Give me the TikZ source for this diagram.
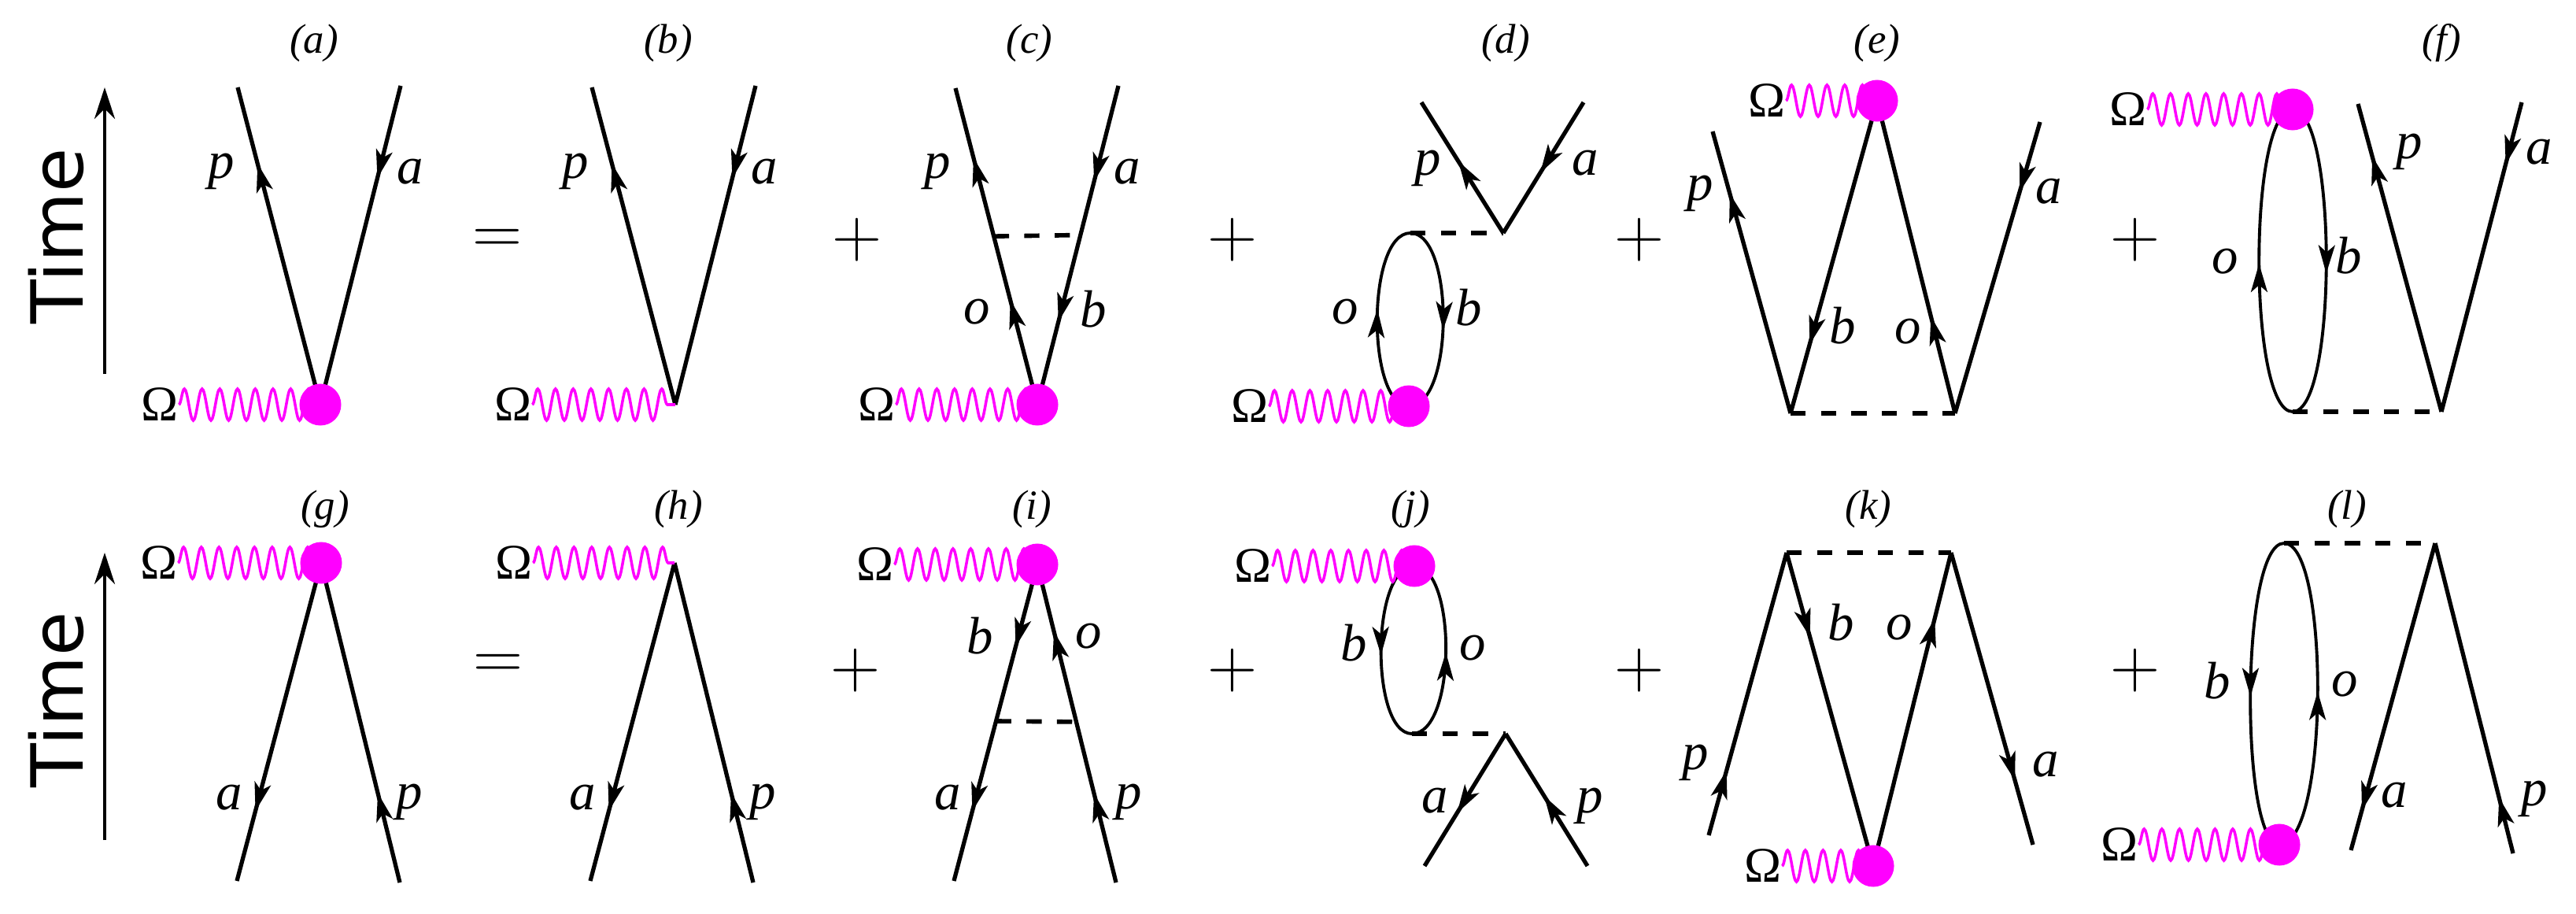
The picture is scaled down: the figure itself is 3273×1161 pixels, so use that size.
\documentclass[tikz,border=0pt]{standalone}
\usepackage{fontspec}
\setmainfont{Liberation Serif}
\newfontfamily\timefont{DejaVu Sans}
\usetikzlibrary{arrows.meta,decorations.pathmorphing,decorations.markings,calc}
\definecolor{mag}{RGB}{255,0,255}
\tikzset{
  fl/.style={line width=1.5pt},
  lp/.style={line width=1.1pt},
  fa/.style={postaction={decorate,decoration={markings,mark=at position #1 with {\arrow{Stealth[length=3.6mm,width=2.1mm,inset=0.9mm]}}}}},
  dsh/.style={line width=1.6pt,dash pattern=on 5.5pt off 5.5pt},
  wave/.style={mag,line width=1pt,decorate,decoration={snake,segment length=0.225cm,amplitude=0.2cm}},
  dot/.style={circle,fill=mag,inner sep=0pt,minimum size=0.53cm},
  lab/.style={font=\fontsize{19}{19}\selectfont\itshape},
  om/.style={font=\fontsize{18}{18}\selectfont,inner sep=0pt},
  ttl/.style={font=\fontsize{15}{15}\selectfont\itshape},
  op/.style={font=\fontsize{27}{27}\selectfont}
}
\begin{document}
\begin{tikzpicture}[x=0.01cm,y=-0.01cm]
\useasboundingbox (0,0) rectangle (3273,1161);
% titles
\foreach \t/\x/\y in {a/399/55,b/849/55,c/1308/55,d/1913/55,e/2385/55,f/3102/55,g/413/647,h/862/647,i/1311/647,j/1792/647,k/2374/647,l/2982/647}
  \node[ttl] (t\t) at (\x,\y) {(\t)};
% operators
\node[op] (eq1) at (632,307) {$=$};
\node[op] (eq2) at (633,847) {$=$};
\foreach \n/\x/\y in {1/1089/305,2/1566/305,3/2083/305,4/2713/305,5/1087/852,6/1566/852,7/2083/852,8/2713/852}
  \node[op] (pl\n) at (\x,\y) {$+$};
% time axes
\coordinate (T1b) at (133,475); \coordinate (T1t) at (133,111);
\coordinate (T2b) at (133,1067); \coordinate (T2t) at (133,702);
\draw[line width=1.2pt,-{Stealth[length=4mm,width=2.6mm]}] (T1b) -- (T1t);
\draw[line width=1.2pt,-{Stealth[length=4mm,width=2.6mm]}] (T2b) -- (T2t);
\node[rotate=90,font=\timefont\fontsize{26}{26}\selectfont] (time1) at (71,300) {Time};
\node[rotate=90,font=\timefont\fontsize{26}{26}\selectfont] (time2) at (71,889) {Time};

% ---------- (a)
\coordinate (va) at (407,514); \coordinate (a1) at (302,111); \coordinate (a2) at (509,109);
\draw[fl,fa=0.76] (va) -- (a1);
\draw[fl,fa=0.29] (a2) -- (va);
\node[om] (Oa) at (203,514) {Ω};
\draw[wave] (Oa.east) -- (va);
\node[dot] (da) at (va) {};
\node[lab] at (281,218) {p}; \node[lab] at (521,218) {a};
% ---------- (b)
\coordinate (vb) at (858,514); \coordinate (b1) at (752,111); \coordinate (b2) at (960,109);
\draw[fl,fa=0.76] (vb) -- (b1);
\draw[fl,fa=0.29] (b2) -- (vb);
\node[om] (Ob) at (652,514) {Ω};
\draw[wave] (Ob.east) -- (vb);
\node[lab] at (731,218) {p}; \node[lab] at (971,218) {a};
% ---------- (c)
\coordinate (vc) at (1318,514); \coordinate (c1) at (1214,112); \coordinate (c2) at (1421,109);
\coordinate (cL) at ($(vc)!0.532!(c1)$); \coordinate (cR) at ($(vc)!0.532!(c2)$);
\draw[fl,fa=0.33,fa=0.78] (vc) -- (c1);
\draw[fl,fa=0.30,fa=0.74] (c2) -- (vc);
\draw[dsh] (cL) -- (cR);
\node[om] (Oc) at (1114,514) {Ω};
\draw[wave] (Oc.east) -- (vc);
\node[dot] (dc) at (vc) {};
\node[lab] at (1191,218) {p}; \node[lab] at (1432,218) {a};
\node[lab] at (1241,396) {o}; \node[lab] at (1389,393) {b};
% ---------- (d)
\coordinate (vd) at (1910,296); \coordinate (d1) at (1806,130); \coordinate (d2) at (2012,130);
\coordinate (dt) at (1792,296); \coordinate (dbm) at (1790,516);
\draw[fl,fa=0.55] (vd) -- (d1);
\draw[fl,fa=0.54] (d2) -- (vd);
\draw[dsh] (dt) -- (vd);
\draw[lp,fa=0.55] (dbm) .. controls (1736,516) and (1736,296) .. (dt);
\draw[lp,fa=0.55] (dt) .. controls (1848,296) and (1848,516) .. (dbm);
\node[om] (Od) at (1588,516) {Ω};
\draw[wave] (Od.east) -- (dbm);
\node[dot] (dd) at (dbm) {};
\node[lab] at (1814,214) {p}; \node[lab] at (2014,207) {a};
\node[lab] at (1709,396) {o}; \node[lab] at (1866,391) {b};
% ---------- (e)
\coordinate (ve) at (2385,128); \coordinate (e1) at (2176,167); \coordinate (eL) at (2275,525);
\coordinate (eR) at (2484,525); \coordinate (e2) at (2592,155);
\draw[fl,fa=0.78] (eL) -- (e1);
\draw[fl,fa=0.78] (ve) -- (eL);
\draw[fl,fa=0.31] (eR) -- (ve);
\draw[fl,fa=0.24] (e2) -- (eR);
\draw[dsh] (eL) -- (eR);
\node[om] (Oe) at (2245,128) {Ω};
\draw[wave] (Oe.east) -- (ve);
\node[dot] (de) at (ve) {};
\node[lab] at (2160,246) {p}; \node[lab] at (2603,243) {a};
\node[lab] at (2341,414) {b}; \node[lab] at (2424,421) {o};
% ---------- (f)
\coordinate (vfd) at (2913,139); \coordinate (fb) at (2913,523); \coordinate (fv) at (3102,523);
\coordinate (f1) at (2996,132); \coordinate (f2) at (3204,130);
\draw[lp,fa=0.49] (fb) .. controls (2856,523) and (2856,139) .. (vfd);
\draw[lp,fa=0.54] (vfd) .. controls (2970,139) and (2970,523) .. (fb);
\draw[dsh] (fb) -- (fv);
\draw[fl,fa=0.83] (fv) -- (f1);
\draw[fl,fa=0.2] (f2) -- (fv);
\node[om] (Of) at (2704,139) {Ω};
\draw[wave] (Of.east) -- (vfd);
\node[dot] (df) at (vfd) {};
\node[lab] at (3061,193) {p}; \node[lab] at (3226,193) {a};
\node[lab] at (2827,332) {o}; \node[lab] at (2984,325) {b};

% ---------- (g)
\coordinate (vg) at (408,715); \coordinate (g1) at (301,1119); \coordinate (g2) at (508,1121);
\draw[fl,fa=0.78] (vg) -- (g1);
\draw[fl,fa=0.28] (g2) -- (vg);
\node[om] (Og) at (202,715) {Ω};
\draw[wave] (Og.east) -- (vg);
\node[dot] (dg) at (vg) {};
\node[lab] at (291,1013) {a}; \node[lab] at (520,1019) {p};
% ---------- (h)
\coordinate (vh) at (857,715); \coordinate (h1) at (750,1119); \coordinate (h2) at (957,1121);
\draw[fl,fa=0.78] (vh) -- (h1);
\draw[fl,fa=0.28] (h2) -- (vh);
\node[om] (Oh) at (653,715) {Ω};
\draw[wave] (Oh.east) -- (vh);
\node[lab] at (740,1013) {a}; \node[lab] at (969,1019) {p};
% ---------- (i)
\coordinate (vi) at (1318,717); \coordinate (i1) at (1212,1119); \coordinate (i2) at (1418,1121);
\coordinate (iL) at ($(vi)!0.495!(i1)$); \coordinate (iR) at ($(vi)!0.495!(i2)$);
\draw[fl,fa=0.26,fa=0.78] (vi) -- (i1);
\draw[fl,fa=0.28,fa=0.79] (i2) -- (vi);
\draw[dsh] (iL) -- (iR);
\node[om] (Oi) at (1112,717) {Ω};
\draw[wave] (Oi.east) -- (vi);
\node[dot] (di) at (vi) {};
\node[lab] at (1245,808) {b}; \node[lab] at (1383,808) {o};
\node[lab] at (1204,1013) {a}; \node[lab] at (1434,1019) {p};
% ---------- (j)
\coordinate (vjd) at (1797,719); \coordinate (jb) at (1794,932); \coordinate (vj) at (1913,932);
\coordinate (j1) at (1810,1100); \coordinate (j2) at (2017,1100);
\draw[lp,fa=0.53] (vjd) .. controls (1741,719) and (1741,932) .. (jb);
\draw[lp,fa=0.49] (jb) .. controls (1851,932) and (1851,719) .. (vjd);
\draw[dsh] (jb) -- (vj);
\draw[fl,fa=0.6] (vj) -- (j1);
\draw[fl,fa=0.53] (j2) -- (vj);
\node[om] (Oj) at (1592,719) {Ω};
\draw[wave] (Oj.east) -- (vjd);
\node[dot] (dj) at (vjd) {};
\node[lab] at (1720,817) {b}; \node[lab] at (1871,823) {o};
\node[lab] at (1823,1017) {a}; \node[lab] at (2020,1024) {p};
% ---------- (k)
\coordinate (kL) at (2270,702); \coordinate (kR) at (2479,702); \coordinate (vk) at (2380,1100);
\coordinate (k1) at (2171,1061); \coordinate (k2) at (2583,1073);
\draw[fl,fa=0.23] (k1) -- (kL);
\draw[fl,fa=0.27] (kL) -- (vk);
\draw[fl,fa=0.79] (vk) -- (kR);
\draw[fl,fa=0.78] (kR) -- (k2);
\draw[dsh] (kL) -- (kR);
\node[om] (Ok) at (2240,1100) {Ω};
\draw[wave] (Ok.east) -- (vk);
\node[dot] (dk) at (vk) {};
\node[lab] at (2339,791) {b}; \node[lab] at (2413,797) {o};
\node[lab] at (2154,969) {p}; \node[lab] at (2599,971) {a};
% ---------- (l)
\coordinate (lt) at (2902,690); \coordinate (vld) at (2896,1073); \coordinate (lv) at (3094,690);
\coordinate (l1) at (2987,1080); \coordinate (l2) at (3193,1084);
\draw[lp,fa=0.51] (lt) .. controls (2846,690) and (2846,1073) .. (vld);
\draw[lp,fa=0.51] (vld) .. controls (2960,1073) and (2960,690) .. (lt);
\draw[dsh] (lt) -- (lv);
\draw[fl,fa=0.87] (lv) -- (l1);
\draw[fl,fa=0.18] (l2) -- (lv);
\node[om] (Ol) at (2693,1073) {Ω};
\draw[wave] (Ol.east) -- (vld);
\node[dot] (dl) at (vld) {};
\node[lab] at (2817,865) {b}; \node[lab] at (2979,869) {o};
\node[lab] at (3042,1010) {a}; \node[lab] at (3220,1015) {p};
\end{tikzpicture}
\end{document}
